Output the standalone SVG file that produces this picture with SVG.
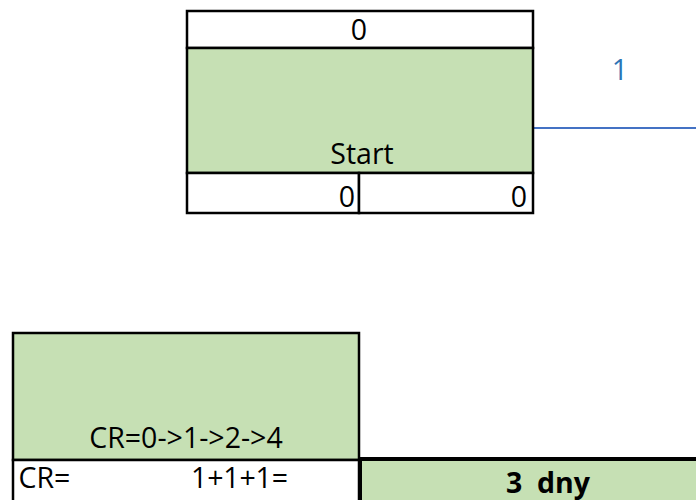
<svg xmlns="http://www.w3.org/2000/svg" width="696" height="500" viewBox="0 0 696 500">
  <defs>
    <style>
      text { font-family: "Open Sans", "Noto Sans", "Liberation Sans", sans-serif; font-size: 28.5px; fill: #000; }
      .cell { fill: #ffffff; stroke: #000; stroke-width: 2.5; }
      .task { fill: #C6E0B4; stroke: #000; stroke-width: 2.5; }
      .total { fill: #C6E0B4; stroke: #000; stroke-width: 4; }
      .mid { text-anchor: middle; }
      .end { text-anchor: end; }
      .edge { stroke: #4472C4; stroke-width: 2; fill: none; }
      .edge-label { fill: #2E75B6; text-anchor: middle; }
      .bold { font-weight: bold; }
    </style>
  </defs>

  <!-- connectors -->
  <g id="connectors">
    <line class="edge" x1="533" y1="128" x2="696" y2="128"/>
    <text class="edge-label" x="620" y="80">1</text>
  </g>

  <!-- start node: header, body, bottom split row -->
  <g id="node-start">
    <rect class="cell" x="187" y="11" width="346" height="37"/>
    <rect class="task" x="187" y="48" width="346" height="125"/>
    <rect class="cell" x="187" y="173" width="172" height="40"/>
    <rect class="cell" x="359" y="173" width="174" height="40"/>
    <text class="mid" x="359" y="40">0</text>
    <text class="mid" x="362" y="164">Start</text>
    <text class="end" x="355" y="207">0</text>
    <text class="end" x="527" y="207">0</text>
  </g>

  <!-- legend: critical path summary -->
  <g id="node-legend">
    <rect class="task" x="13" y="333" width="346" height="127"/>
    <rect class="cell" x="13" y="460" width="346" height="50"/>
    <text class="mid" x="186" y="448">CR=0-&gt;1-&gt;2-&gt;4</text>
    <text x="18.5" y="488">CR=</text>
    <text x="191" y="488" textLength="97" lengthAdjust="spacing">1+1+1=</text>
  </g>

  <!-- total duration -->
  <g id="node-total">
    <rect class="total" x="360" y="459" width="400" height="60"/>
    <text class="mid bold" x="548" y="493" xml:space="preserve">3  dny</text>
  </g>
</svg>
